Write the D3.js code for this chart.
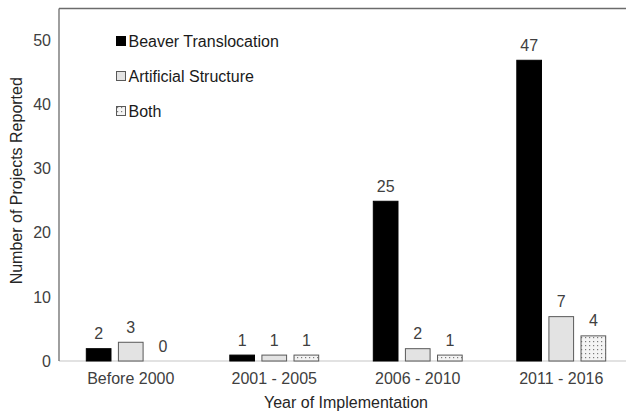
<!DOCTYPE html>
<html>
<head>
<meta charset="utf-8">
<script src="https://cdn.jsdelivr.net/npm/d3@7"></script>
<style>
  html, body { margin: 0; padding: 0; background: #fff; }
  svg { display: block; font-family: "Liberation Sans", Arial, sans-serif; }
</style>
</head>
<body>
<svg id="chart" width="626" height="415"></svg>
<script>
const categories = ["Before 2000", "2001 - 2005", "2006 - 2010", "2011 - 2016"];
const seriesNames = ["Beaver Translocation", "Artificial Structure", "Both"];
const beaverTranslocation = [2, 1, 25, 47];
const artificialStructure = [3, 1, 2, 7];
const both = [0, 1, 1, 4];
const yTicks = [0, 10, 20, 30, 40, 50];

const seriesValues = [beaverTranslocation, artificialStructure, both];

const svg = d3.select("#chart");
const defs = svg.append("defs");
const pat = defs.append("pattern")
  .attr("id", "dots").attr("patternUnits", "userSpaceOnUse")
  .attr("width", 4).attr("height", 4);
pat.append("rect").attr("width", 4).attr("height", 4).attr("fill", "#f4f4f4");
pat.append("rect").attr("x", 1).attr("y", 1).attr("width", 1.2).attr("height", 1.2).attr("fill", "#7a7a7a");

const fills = ["#000000", "#e3e3e3", "url(#dots)"];
const strokes = ["#000000", "#595959", "#595959"];

const mLeft = 59, mRight = 633, mTop = 8.5, mBottom = 361;

const x0 = d3.scaleBand().domain(categories).range([mLeft, mRight]).padding(0);
const x1 = d3.scaleBand().domain(seriesNames).range([0, x0.bandwidth()])
  .paddingInner(0.2).paddingOuter(0.835);
const y = d3.scaleLinear().domain([0, 55]).range([mBottom, mTop]);

// baseline
svg.append("line").attr("x1", mLeft).attr("x2", 626).attr("y1", mBottom).attr("y2", mBottom)
  .attr("stroke", "#d9d9d9").attr("stroke-width", 1.5);

// bars
const data = [];
categories.forEach((c, i) => seriesNames.forEach((s, j) => data.push({c, s, j, v: seriesValues[j][i]})));

const g = svg.append("g");
g.selectAll("rect.bar").data(data.filter(d => d.v > 0)).join("rect")
  .attr("class", "bar")
  .attr("x", d => x0(d.c) + x1(d.s) + 0.5)
  .attr("y", d => y(d.v) + 0.5)
  .attr("width", x1.bandwidth() - 1)
  .attr("height", d => y(0) - y(d.v) - 0.5)
  .attr("fill", d => fills[d.j])
  .attr("stroke", d => strokes[d.j])
  .attr("stroke-width", 1);

g.selectAll("text.lbl").data(data).join("text")
  .attr("class", "lbl")
  .attr("x", d => x0(d.c) + x1(d.s) + x1.bandwidth() / 2)
  .attr("y", d => y(d.v) - 9)
  .attr("text-anchor", "middle")
  .attr("font-size", 16)
  .attr("fill", "#404040")
  .text(d => d.v);

// y axis
const yAxis = d3.axisLeft(y).tickValues(yTicks).tickSize(0).tickPadding(8);
const ya = svg.append("g").attr("transform", `translate(${mLeft},0)`).call(yAxis);
ya.select(".domain").remove();
ya.selectAll("text").attr("font-size", 16).attr("fill", "#404040")
  .attr("font-family", "Liberation Sans, Arial, sans-serif");

// x axis labels
const xAxis = d3.axisBottom(x0).tickSize(0).tickPadding(12);
const xa = svg.append("g").attr("transform", `translate(0,${mBottom})`).call(xAxis);
xa.select(".domain").remove();
xa.selectAll("text").attr("font-size", 16).attr("fill", "#404040")
  .attr("font-family", "Liberation Sans, Arial, sans-serif");

// frame: left and top
svg.append("line").attr("x1", mLeft).attr("x2", mLeft).attr("y1", mTop).attr("y2", mBottom)
  .attr("stroke", "#6b6b6b").attr("stroke-width", 1.3);
svg.append("line").attr("x1", mLeft).attr("x2", 626).attr("y1", mTop).attr("y2", mTop)
  .attr("stroke", "#6b6b6b").attr("stroke-width", 1.3);

// axis titles
svg.append("text")
  .attr("transform", `translate(22,${(mTop + mBottom) / 2 - 4}) rotate(-90)`)
  .attr("text-anchor", "middle").attr("font-size", 16).attr("fill", "#262626")
  .text("Number of Projects Reported");
svg.append("text")
  .attr("x", (mLeft + mRight) / 2).attr("y", 408)
  .attr("text-anchor", "middle").attr("font-size", 16).attr("fill", "#262626")
  .text("Year of Implementation");

// legend
const legend = svg.append("g").attr("transform", "translate(116,36)");
const li = legend.selectAll("g").data(seriesNames).join("g")
  .attr("transform", (d, i) => `translate(0,${i * 35})`);
li.append("rect").attr("x", 0.5).attr("y", 0.5).attr("width", 9).attr("height", 9)
  .attr("fill", (d, i) => fills[i]).attr("stroke", (d, i) => strokes[i]);
li.append("text").attr("x", 12.5).attr("y", 10.5).attr("font-size", 16).attr("fill", "#1a1a1a")
  .text(d => d);
</script>
</body>
</html>
